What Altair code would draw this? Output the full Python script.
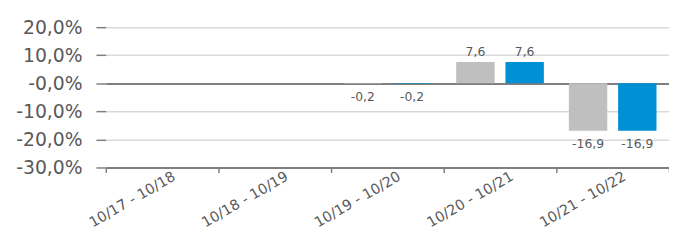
import altair as alt
import pandas as pd

categories = ["10/17 - 10/18", "10/18 - 10/19", "10/19 - 10/20", "10/20 - 10/21", "10/21 - 10/22"]
series_names = ["Serie 1", "Serie 2"]
series1 = [None, None, -0.2, 7.6, -16.9]
series2 = [None, None, -0.2, 7.6, -16.9]
y_ticks = [20, 10, 0, -10, -20, -30]
y_tick_labels = ["20,0%", "10,0%", "-0,0%", "-10,0%", "-20,0%", "-30,0%"]
colors = ["#BFBFBF", "#0090D4"]

rows = []
for s, vals in zip(series_names, [series1, series2]):
    for c, v in zip(categories, vals):
        rows.append({
            "cat": c,
            "series": s,
            "value": v,
            "label": None if v is None else f"{v:.1f}".replace(".", ","),
        })
df = pd.DataFrame(rows)

label_expr = ""
for v, lab in zip(y_ticks, y_tick_labels):
    label_expr += f"datum.value == {v} ? '{lab}' : "
label_expr += "''"

FONT = "DejaVu Sans"
TXT = "#595959"
AX = "#7F7F7F"

x_axis = alt.Axis(
    title=None,
    labelAngle=330,
    labelAlign="right",
    labelBaseline="middle",
    labelOffset=12,
    labelPadding=3,
    labelFontSize=14.5,
    labelColor=TXT,
    labelFont=FONT,
    labelOverlap=False,
    tickBand="extent",
    tickSize=5,
    tickWidth=1.5,
    tickColor=AX,
    domainColor=AX,
    domainWidth=2,
    grid=False,
)
y_axis = alt.Axis(
    title=None,
    values=y_ticks,
    labelExpr=label_expr,
    labelFontSize=19,
    labelColor=TXT,
    labelFont=FONT,
    labelPadding=14,
    labelOverlap=False,
    labelBound=False,
    labelFlush=False,
    grid=True,
    gridColor=alt.condition("datum.value == 0", alt.value(AX), alt.value("#D9D9D9")),
    gridWidth=alt.condition("datum.value == 0", alt.value(2), alt.value(1.5)),
    domain=False,
    tickColor=AX,
    tickSize=10,
    tickWidth=1.5,
)

x_enc = alt.X("cat:N", sort=categories, scale=alt.Scale(paddingInner=0, paddingOuter=0), axis=x_axis)
xo_enc = alt.XOffset("series:N", sort=series_names,
                     scale=alt.Scale(paddingInner=0.22, paddingOuter=0.254))
y_scale = alt.Scale(domain=[-30, 20], nice=False)
y_enc = alt.Y("value:Q", scale=y_scale, axis=y_axis)

base = alt.Chart(df)

bars = base.mark_bar().encode(
    x=x_enc,
    xOffset=xo_enc,
    y=y_enc,
    color=alt.Color("series:N", scale=alt.Scale(domain=series_names, range=colors), legend=None),
)

pos_text = base.transform_filter("datum.value != null && datum.value >= 0").mark_text(
    baseline="bottom", dy=-3, fontSize=12.5, color=TXT, font=FONT
).encode(x=x_enc, xOffset=xo_enc, y=y_enc, text="label:N")

neg_text = base.transform_filter("datum.value != null && datum.value < 0").mark_text(
    baseline="top", dy=7, fontSize=12.5, color=TXT, font=FONT
).encode(x=x_enc, xOffset=xo_enc, y=y_enc, text="label:N")

chart = alt.layer(bars, pos_text, neg_text).properties(
    width=570,
    height=142,
    autosize=alt.AutoSizeParams(type="none"),
    padding={"left": 99, "top": 18, "right": 0, "bottom": 73},
).configure_view(stroke=None)

chart.save("out.html", embed_options={"renderer": "svg", "actions": False})
